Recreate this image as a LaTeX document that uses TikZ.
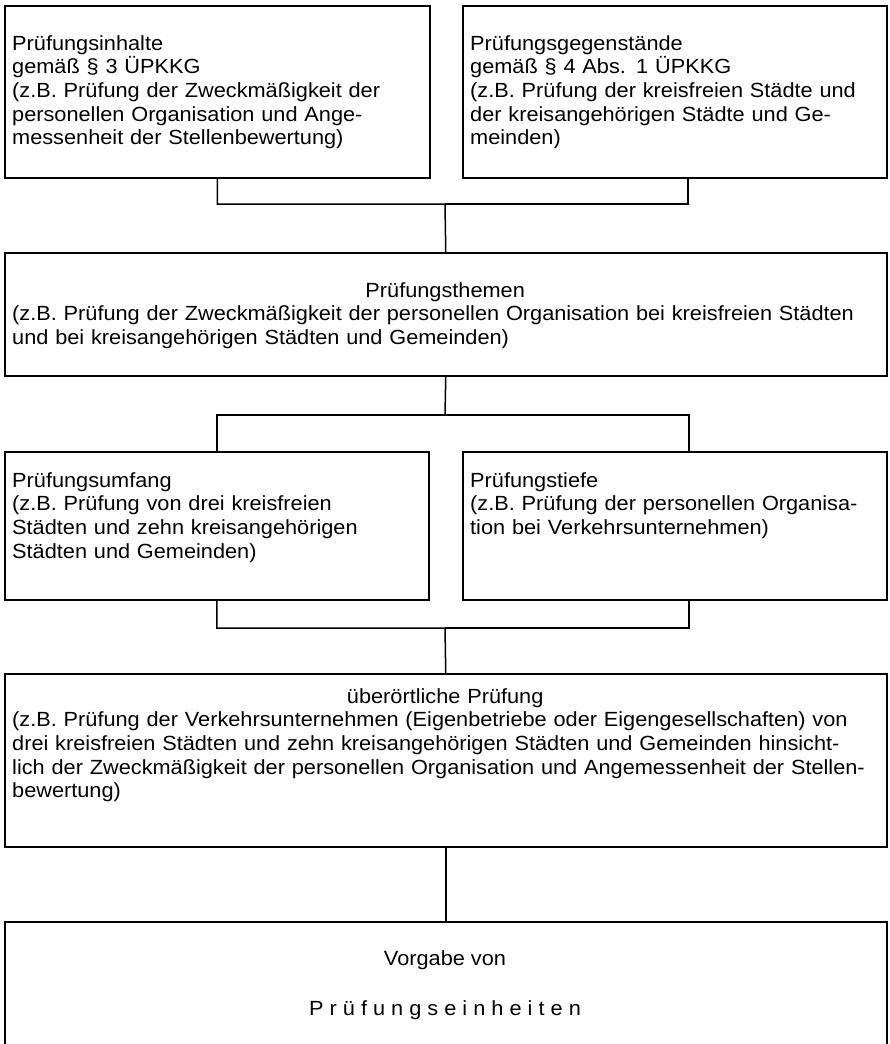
\documentclass[tikz,border=0pt]{standalone}
\usepackage{fontspec}
\setmainfont{Liberation Sans}[FakeStretch=1.06]
\begin{document}
\begin{tikzpicture}[x=1pt,y=-1pt,
  box/.style={draw, line width=1.5pt, rectangle, inner sep=0pt, anchor=north west},
  txt/.style={inner sep=0pt, anchor=base west, align=left, font=\fontsize{20.5}{23.7}\selectfont},
  ctxt/.style={inner sep=0pt, anchor=base, align=center, font=\fontsize{20.5}{23.7}\selectfont},
  conn/.style={line width=1.5pt}]
\useasboundingbox (0,0) rectangle (889,1044);
\clip (0,0) rectangle (889,1044);
% boxes
\node[box, minimum width=425pt, minimum height=172pt] (b1) at (4,5) {};
\node[box, minimum width=424pt, minimum height=172pt] (b2) at (462,5) {};
\node[box, minimum width=882pt, minimum height=123pt] (b3) at (4,252) {};
\node[box, minimum width=424pt, minimum height=148pt] (b4a) at (4,451) {};
\node[box, minimum width=424pt, minimum height=148pt] (b4b) at (462,451) {};
\node[box, minimum width=882pt, minimum height=173pt] (b5) at (4,673) {};
\node[box, minimum width=882pt, minimum height=150pt] (b6) at (4,921) {};
% texts
\node[txt, text width=415pt] (t1) at (12,50) {Prüfungsinhalte\\gemäß § 3 ÜPKKG\\(z.B. Prüfung der Zweckmäßigkeit der\\personellen Organisation und Ange-\\messenheit der Stellenbewertung)};
\node[txt, text width=415pt] (t2) at (470,50) {Prüfungsgegenstände\\gemäß § 4 Abs. 1 ÜPKKG\\(z.B. Prüfung der kreisfreien Städte und\\der kreisangehörigen Städte und Ge-\\meinden)};
\node[txt, text width=866pt] (t3) at (12,297) {\makebox[\linewidth][c]{Prüfungsthemen}\\(z.B. Prüfung der Zweckmäßigkeit der personellen Organisation bei kreisfreien Städten\\und bei kreisangehörigen Städten und Gemeinden)};
\node[txt, text width=415pt] (t4a) at (12,487) {Prüfungsumfang\\(z.B. Prüfung von drei kreisfreien\\Städten und zehn kreisangehörigen\\Städten und Gemeinden)};
\node[txt, text width=415pt] (t4b) at (470,487) {Prüfungstiefe\\(z.B. Prüfung der personellen Organisa-\\tion bei Verkehrsunternehmen)};
\node[txt, text width=866pt] (t5) at (12,703) {\makebox[\linewidth][c]{überörtliche Prüfung}\\(z.B. Prüfung der Verkehrsunternehmen (Eigenbetriebe oder Eigengesellschaften) von\\drei kreisfreien Städten und zehn kreisangehörigen Städten und Gemeinden hinsicht-\\lich der Zweckmäßigkeit der personellen Organisation und Angemessenheit der Stellen-\\bewertung)};
\node[ctxt] (t6a) at (445,965) {Vorgabe von};
\node[ctxt] (t6b) at (445,1015) {P r ü f u n g s e i n h e i t e n};
% connectors
\coordinate (j1) at (445,204);
\coordinate (c2) at (688,177);
\draw[conn] (b1.south) |- (j1) -- (b3.north);
\draw[conn] (c2) |- (j1);
\coordinate (j2) at (445,415);
\coordinate (c4b) at (689,451);
\draw[conn] (b3.south) -- (j2);
\draw[conn] (b4a.north) |- (j2);
\draw[conn] (c4b) |- (j2);
\coordinate (j3) at (445,628);
\coordinate (c4bs) at (689,599);
\draw[conn] (b4a.south) |- (j3) -- (b5.north);
\draw[conn] (c4bs) |- (j3);
\draw[conn] (b5.south) -- (b6.north);
\end{tikzpicture}
\end{document}
